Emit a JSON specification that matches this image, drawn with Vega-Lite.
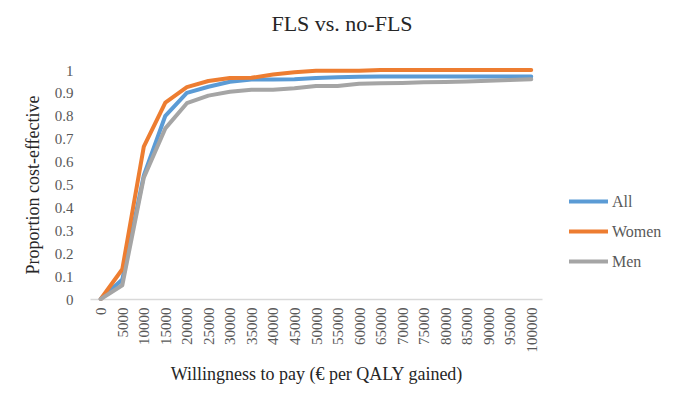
{
  "$schema": "https://vega.github.io/schema/vega-lite/v6.json",
  "autosize": {"type": "none"},
  "width": 452,
  "height": 229,
  "padding": {"left": 90, "top": 70, "right": 143, "bottom": 112},
  "background": "white",
  "title": {
    "text": "FLS vs. no-FLS",
    "anchor": "middle",
    "frame": "group",
    "dx": 26,
    "offset": 27,
    "fontSize": 22,
    "font": "Liberation Serif",
    "fontWeight": "normal",
    "color": "#262626"
  },
  "config": {
    "view": {"stroke": null},
    "axis": {"labelFont": "Liberation Serif", "titleFont": "Liberation Serif"},
    "legend": {"labelFont": "Liberation Serif"}
  },
  "data": {
    "values": [
      {"wtp": 0, "group": "All", "p": 0},
      {"wtp": 5000, "group": "All", "p": 0.085},
      {"wtp": 10000, "group": "All", "p": 0.54},
      {"wtp": 15000, "group": "All", "p": 0.8},
      {"wtp": 20000, "group": "All", "p": 0.9},
      {"wtp": 25000, "group": "All", "p": 0.927},
      {"wtp": 30000, "group": "All", "p": 0.949},
      {"wtp": 35000, "group": "All", "p": 0.958},
      {"wtp": 40000, "group": "All", "p": 0.958},
      {"wtp": 45000, "group": "All", "p": 0.96},
      {"wtp": 50000, "group": "All", "p": 0.965},
      {"wtp": 55000, "group": "All", "p": 0.968},
      {"wtp": 60000, "group": "All", "p": 0.97},
      {"wtp": 65000, "group": "All", "p": 0.972},
      {"wtp": 70000, "group": "All", "p": 0.972},
      {"wtp": 75000, "group": "All", "p": 0.972},
      {"wtp": 80000, "group": "All", "p": 0.972},
      {"wtp": 85000, "group": "All", "p": 0.972},
      {"wtp": 90000, "group": "All", "p": 0.972},
      {"wtp": 95000, "group": "All", "p": 0.972},
      {"wtp": 100000, "group": "All", "p": 0.972},
      {"wtp": 0, "group": "Women", "p": 0},
      {"wtp": 5000, "group": "Women", "p": 0.13},
      {"wtp": 10000, "group": "Women", "p": 0.665},
      {"wtp": 15000, "group": "Women", "p": 0.858},
      {"wtp": 20000, "group": "Women", "p": 0.925},
      {"wtp": 25000, "group": "Women", "p": 0.952},
      {"wtp": 30000, "group": "Women", "p": 0.965},
      {"wtp": 35000, "group": "Women", "p": 0.966},
      {"wtp": 40000, "group": "Women", "p": 0.98},
      {"wtp": 45000, "group": "Women", "p": 0.99},
      {"wtp": 50000, "group": "Women", "p": 0.997},
      {"wtp": 55000, "group": "Women", "p": 0.997},
      {"wtp": 60000, "group": "Women", "p": 0.997},
      {"wtp": 65000, "group": "Women", "p": 1.0},
      {"wtp": 70000, "group": "Women", "p": 1.0},
      {"wtp": 75000, "group": "Women", "p": 1.0},
      {"wtp": 80000, "group": "Women", "p": 1.0},
      {"wtp": 85000, "group": "Women", "p": 1.0},
      {"wtp": 90000, "group": "Women", "p": 1.0},
      {"wtp": 95000, "group": "Women", "p": 1.0},
      {"wtp": 100000, "group": "Women", "p": 1.0},
      {"wtp": 0, "group": "Men", "p": 0},
      {"wtp": 5000, "group": "Men", "p": 0.06},
      {"wtp": 10000, "group": "Men", "p": 0.53},
      {"wtp": 15000, "group": "Men", "p": 0.745},
      {"wtp": 20000, "group": "Men", "p": 0.855},
      {"wtp": 25000, "group": "Men", "p": 0.888},
      {"wtp": 30000, "group": "Men", "p": 0.905},
      {"wtp": 35000, "group": "Men", "p": 0.914},
      {"wtp": 40000, "group": "Men", "p": 0.914},
      {"wtp": 45000, "group": "Men", "p": 0.92},
      {"wtp": 50000, "group": "Men", "p": 0.93},
      {"wtp": 55000, "group": "Men", "p": 0.93},
      {"wtp": 60000, "group": "Men", "p": 0.94},
      {"wtp": 65000, "group": "Men", "p": 0.942},
      {"wtp": 70000, "group": "Men", "p": 0.943},
      {"wtp": 75000, "group": "Men", "p": 0.946},
      {"wtp": 80000, "group": "Men", "p": 0.948},
      {"wtp": 85000, "group": "Men", "p": 0.95},
      {"wtp": 90000, "group": "Men", "p": 0.953},
      {"wtp": 95000, "group": "Men", "p": 0.956},
      {"wtp": 100000, "group": "Men", "p": 0.96}
    ]
  },
  "mark": {"type": "line", "strokeWidth": 4, "strokeJoin": "round", "strokeCap": "round"},
  "encoding": {
    "x": {
      "field": "wtp",
      "type": "ordinal",
      "scale": {"type": "point", "padding": 0.5},
      "axis": {
        "title": "Willingness to pay (€ per QALY gained)",
        "titleFontSize": 18,
        "titleFontWeight": "normal",
        "titleColor": "#262626",
        "titlePadding": 13,
        "labelAngle": -90,
        "labelFontSize": 15,
        "labelColor": "#595959",
        "labelPadding": 8,
        "ticks": false,
        "domainColor": "#D9D9D9",
        "domainWidth": 1.5,
        "grid": false
      }
    },
    "y": {
      "field": "p",
      "type": "quantitative",
      "scale": {"domain": [0, 1]},
      "axis": {
        "title": "Proportion cost-effective",
        "titleFontSize": 18,
        "titleFontWeight": "normal",
        "titleColor": "#262626",
        "titlePadding": 12,
        "values": [0, 0.1, 0.2, 0.3, 0.4, 0.5, 0.6, 0.7, 0.8, 0.9, 1],
        "format": "~g",
        "labelFontSize": 15,
        "labelColor": "#595959",
        "labelPadding": 17,
        "ticks": false,
        "domain": false,
        "grid": false
      }
    },
    "color": {
      "field": "group",
      "type": "nominal",
      "sort": ["All", "Women", "Men"],
      "scale": {"domain": ["All", "Women", "Men"], "range": ["#5B9BD5", "#ED7D31", "#A5A5A5"]},
      "legend": {
        "title": null,
        "orient": "none",
        "legendX": 477,
        "legendY": 110,
        "symbolType": "stroke",
        "symbolSize": 1521,
        "symbolStrokeWidth": 4,
        "labelFontSize": 16,
        "labelColor": "#595959",
        "labelOffset": 2,
        "rowPadding": -8
      }
    }
  }
}
